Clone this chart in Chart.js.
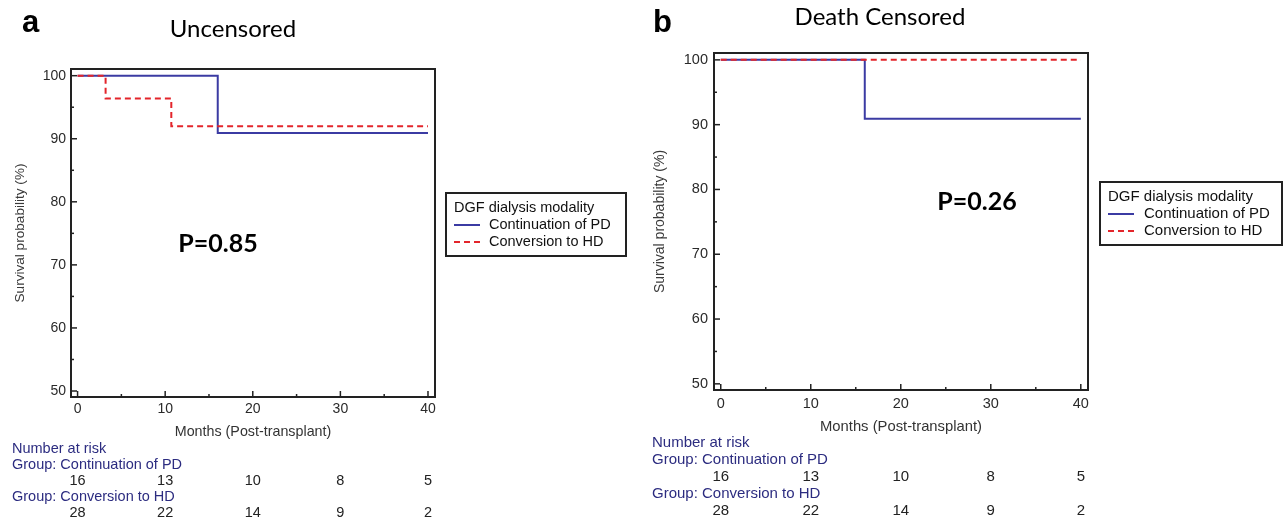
<!DOCTYPE html>
<html>
<head>
<meta charset="utf-8">
<title>Kaplan-Meier: DGF dialysis modality</title>
<script src="https://cdn.jsdelivr.net/npm/chart.js@4/dist/chart.umd.min.js"></script>
<style>
  html, body { margin: 0; padding: 0; background: #fff; }
  #wrap { position: relative; width: 1284px; height: 520px; overflow: hidden; }
  #chartA { position: absolute; left: 0; top: 0; }
  #chartB { position: absolute; left: 640px; top: 0; }
</style>
</head>
<body>
<div id="wrap">
  <canvas id="chartA" width="640" height="520"></canvas>
  <canvas id="chartB" width="644" height="520"></canvas>
</div>
<script>
// data
const xTicks = [0, 10, 20, 30, 40];
const xMinorTicks = [5, 15, 25, 35];
const yTicks = [50, 60, 70, 80, 90, 100];
const yMinorTicks = [55, 65, 75, 85, 95];

// panel a: uncensored
const pdTimesA = [0, 16, 40];
const pdSurvA = [100, 90.9, 90.9];
const hdTimesA = [0, 3.2, 10.7, 40];
const hdSurvA = [100, 96.4, 92.0, 92.0];
const pValueA = 'P=0.85';

// panel b: death censored
const pdTimesB = [0, 16, 40];
const pdSurvB = [100, 90.9, 90.9];
const hdTimesB = [0, 40];
const hdSurvB = [100, 100];
const pValueB = 'P=0.26';

// number at risk
const riskTimes = [0, 10, 20, 30, 40];
const riskPD = [16, 13, 10, 8, 5];
const riskHD = [28, 22, 14, 9, 2];

const groupNames = ['Continuation of PD', 'Conversion to HD'];
const BLUE = '#3b3ba3';
const RED = '#e3252b';
const SANS = '"Liberation Sans", Arial, sans-serif';
const CALIBRI = 'Lato, "Open Sans", sans-serif';

function toPts(xs, ys) {
  return xs.map((x, i) => ({ x: x, y: ys[i] }));
}

function line(ctx, x1, y1, x2, y2) {
  ctx.beginPath();
  ctx.moveTo(x1, y1);
  ctx.lineTo(x2, y2);
  ctx.stroke();
}

// frame, inward ticks, panel texts, legend and risk table
const kmExtras = {
  id: 'kmExtras',
  afterDraw(chart, args, o) {
    const { ctx, chartArea: a } = chart;
    const x = chart.scales.x, y = chart.scales.y;
    ctx.save();

    ctx.strokeStyle = '#222';
    ctx.lineWidth = 2;
    ctx.strokeRect(a.left, a.top, a.right - a.left, a.bottom - a.top);

    ctx.lineWidth = 1.5;
    xTicks.forEach(v => { const p = x.getPixelForValue(v); line(ctx, p, a.bottom, p, a.bottom - 6); });
    xMinorTicks.forEach(v => { const p = x.getPixelForValue(v); line(ctx, p, a.bottom, p, a.bottom - 3); });
    yTicks.forEach(v => { const p = y.getPixelForValue(v); line(ctx, a.left, p, a.left + 6, p); });
    yMinorTicks.forEach(v => { const p = y.getPixelForValue(v); line(ctx, a.left, p, a.left + 3, p); });

    // panel letter and title
    ctx.fillStyle = '#000';
    ctx.textBaseline = 'alphabetic';
    ctx.textAlign = 'left';
    ctx.font = 'bold 31px ' + SANS;
    ctx.fillText(o.letter, o.letterX, 32);
    ctx.textAlign = 'center';
    ctx.font = '24px ' + CALIBRI;
    ctx.fillText(o.title, o.titleX, o.titleY);

    // p value
    ctx.font = 'bold 25px ' + CALIBRI;
    ctx.textBaseline = 'middle';
    ctx.fillText(o.pText, o.pX, o.pY);

    // legend
    const lg = o.legend;
    ctx.strokeStyle = '#222';
    ctx.lineWidth = 2;
    ctx.strokeRect(lg.x, lg.y, lg.w, lg.h);
    ctx.fillStyle = '#111';
    ctx.textAlign = 'left';
    ctx.font = lg.size + 'px ' + SANS;
    ctx.fillText('DGF dialysis modality', lg.x + 8, lg.y + 15);
    ctx.lineWidth = 2;
    ctx.strokeStyle = BLUE;
    line(ctx, lg.x + 8, lg.y + 32, lg.x + 34, lg.y + 32);
    ctx.strokeStyle = RED;
    ctx.setLineDash([6, 4]);
    line(ctx, lg.x + 8, lg.y + 49, lg.x + 34, lg.y + 49);
    ctx.setLineDash([]);
    ctx.fillText(groupNames[0], lg.x + lg.tx, lg.y + 32);
    ctx.fillText(groupNames[1], lg.x + lg.tx, lg.y + 49);

    // number at risk
    const r = o.risk;
    ctx.font = r.size + 'px ' + SANS;
    ctx.fillStyle = '#2c2c80';
    ctx.fillText('Number at risk', r.x, r.y0);
    ctx.fillText('Group: ' + groupNames[0], r.x, r.y0 + r.step);
    ctx.fillText('Group: ' + groupNames[1], r.x, r.y0 + 3 * r.step);
    ctx.fillStyle = '#222';
    ctx.textAlign = 'center';
    riskTimes.forEach((t, i) => {
      const p = x.getPixelForValue(t);
      ctx.fillText(String(riskPD[i]), p, r.y0 + 2 * r.step);
      ctx.fillText(String(riskHD[i]), p, r.y0 + 4 * r.step);
    });
    ctx.restore();
  }
};

function makeChart(id, d, lay) {
  const tickFont = { family: SANS, size: lay.fontSize };
  return new Chart(document.getElementById(id), {
    type: 'line',
    data: {
      datasets: [
        {
          label: groupNames[0],
          data: toPts(d.pdTimes, d.pdSurv),
          borderColor: BLUE,
          borderWidth: 2,
          stepped: true,
          pointRadius: 0,
          fill: false,
          order: 1,
        },
        {
          label: groupNames[1],
          data: toPts(d.hdTimes, d.hdSurv),
          borderColor: RED,
          borderWidth: 2,
          borderDash: [6, 4],
          stepped: true,
          pointRadius: 0,
          fill: false,
          order: 0,
        },
      ],
    },
    options: {
      responsive: false,
      animation: false,
      layout: { padding: { left: lay.left, top: lay.top, right: lay.right, bottom: lay.bottom } },
      plugins: {
        legend: { display: false },
        tooltip: { enabled: false },
        kmExtras: lay.extras,
      },
      scales: {
        x: {
          type: 'linear',
          min: -0.75,
          max: 40.8,
          afterBuildTicks: s => { s.ticks = xTicks.map(v => ({ value: v })); },
          afterFit: s => { s.height = lay.xh; },
          grid: { display: false, drawTicks: false },
          border: { display: false },
          ticks: { font: tickFont, color: '#2a2a2a', padding: lay.xPad, maxRotation: 0 },
          title: { display: true, text: 'Months (Post-transplant)', font: { family: SANS, size: lay.xTitleSize }, color: '#333', padding: { top: 4, bottom: 4 } },
        },
        y: {
          type: 'linear',
          min: 49.05,
          max: 101.06,
          afterBuildTicks: s => { s.ticks = yTicks.map(v => ({ value: v })); },
          afterFit: s => { s.width = lay.yw; },
          grid: { display: false, drawTicks: false },
          border: { display: false },
          ticks: { font: tickFont, color: '#2a2a2a', padding: lay.yPad },
          title: { display: true, text: 'Survival probability (%)', font: { family: SANS, size: lay.yTitleSize }, color: '#3a3a3a', padding: { top: 4, bottom: 4 } },
        },
      },
    },
    plugins: [kmExtras],
  });
}

makeChart('chartA',
  { pdTimes: pdTimesA, pdSurv: pdSurvA, hdTimes: hdTimesA, hdSurv: hdSurvA },
  {
    left: 7.8, top: 69, right: 205, bottom: 75.4, xh: 47.6, yw: 63.2, xPad: 4, yPad: 5,
    fontSize: 14, xTitleSize: 14.3, yTitleSize: 13.6,
    extras: {
      letter: 'a', letterX: 22, title: 'Uncensored', titleX: 233, titleY: 37,
      pText: pValueA, pX: 218, pY: 244,
      legend: { x: 446, y: 193, w: 180, h: 63, size: 14.5, tx: 43 },
      risk: { x: 12, y0: 449, step: 16, size: 14.5 },
    },
  });

makeChart('chartB',
  { pdTimes: pdTimesB, pdSurv: pdSurvB, hdTimes: hdTimesB, hdSurv: hdSurvB },
  {
    left: 7.6, top: 53, right: 196, bottom: 80.1, xh: 49.9, yw: 66.4, xPad: 5, yPad: 6,
    fontSize: 14.5, xTitleSize: 14.8, yTitleSize: 14,
    extras: {
      letter: 'b', letterX: 13, title: 'Death Censored', titleX: 240, titleY: 25,
      pText: pValueB, pX: 337, pY: 202,
      legend: { x: 460, y: 182, w: 182, h: 63, size: 15, tx: 44 },
      risk: { x: 12, y0: 443, step: 17, size: 15 },
    },
  });
</script>
</body>
</html>
